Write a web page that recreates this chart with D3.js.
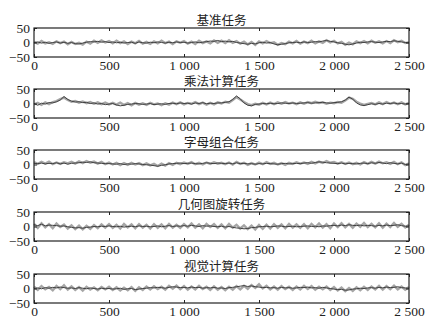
<!DOCTYPE html>
<html>
<head>
<meta charset="utf-8">
<script src="https://cdn.jsdelivr.net/npm/d3@7"></script>
<style>
    body { margin: 0; background: #fff; }
    .tick text { font-family: "Liberation Serif", "DejaVu Serif", serif; font-size: 13.5px; fill: #222; }
    .title { font-family: "Noto Sans CJK SC", sans-serif; font-size: 12.5px; fill: #222; }
</style>
</head>
<body>
<div id="chart"></div>
<script>
// panel titles
const titles = ["基准任务", "乘法计算任务", "字母组合任务", "几何图旋转任务", "视觉计算任务"];
const xTicks = [0, 500, 1000, 1500, 2000, 2500];
const yTicks = [-50, 0, 50];
const step = 25; // one value every 25 samples

// gray series (every 25 samples)
const gray1 = [2,-4,5,-3,1,-5,4,-2,3,-6, 2,-5,-1,-7,3,-4,6,-1,7,0, 5,-3,6,-2,4,-5,3,-3,5,-4,
    2,-5,4,-3,6,-2,3,-5,4,-1, 5,-4,3,-5,6,-2,4,-3,7,-1, 6,-2,8,-1,5,-4,3,-7,2,-8,
    4,-3,5,-2,1,-8,-2,-6,3,-3, 5,-4,3,-2,6,-3,4,-1,8,0, 6,-3,2,-8,0,-6,4,-2,5,-3,
    6,-1,4,-3,5,-2,8,1,6,-2, 1];
const dark1 = [-1,2,-2,1,-3,0,2,-2,1,-3, 0,-4,-5,-2,1,3,2,4,1,3, 0,2,-1,1,-2,0,1,-3,2,-1,
    -2,1,-1,2,0,-2,1,-1,2,0, 1,-2,0,2,-1,1,3,5,4,7, 3,5,2,4,0,-2,-4,-6,-3,-5,
    -1,1,-2,0,-5,-8,-6,-4,-1,0, 1,-1,2,0,1,3,2,5,7,4, 2,-1,-3,-6,-8,-5,-2,1,0,2,
    3,1,0,2,4,3,6,4,2,0, -1];

const gray2 = [-3,2,-5,4,-2,5,8,15,20,12, 6,9,3,7,1,5,-1,4,-2,3, -3,2,-4,3,-5,1,-6,2,-4,1,
    -5,2,-3,0,-6,1,-4,3,-2,4, -3,2,-1,5,-2,3,-4,2,-3,4, 0,6,3,12,22,14,5,-2,-6,-1,
    -4,2,-3,3,-2,4,-1,5,0,3, -2,4,-1,5,1,6,2,4,-1,3, 1,5,3,10,20,16,6,0,-5,-1,
    2,-3,4,-2,5,-1,3,-2,4,-3, 2];
const dark2 = [0,-6,1,-2,3,2,6,12,24,14, 8,5,6,3,4,0,2,-2,0,-4, -2,0,-5,-8,-6,-3,-2,0,-1,-3,
    -2,0,-4,-2,-1,-3,0,1,-1,2, 0,1,-2,2,0,3,-1,1,0,2, 2,4,6,14,26,16,2,-6,-8,-3,
    -2,0,-1,1,-1,0,2,1,0,2, 0,1,2,3,1,2,3,4,2,1, 3,4,6,12,22,15,2,-5,-7,-4,
    -1,-3,0,-2,1,0,2,-1,0,-2, 0];

const gray3 = [8,2,9,3,10,1,7,2,8,4, 9,3,11,5,12,6,10,3,9,1, 7,0,6,-2,5,-1,6,0,5,-2,
    4,-3,2,-5,3,-4,5,-1,6,1, 7,2,8,1,6,0,7,2,8,3, 6,1,7,0,9,2,6,-1,5,0,
    7,1,8,2,6,0,5,-1,6,2, 8,3,7,2,9,4,10,5,12,6, 9,3,8,2,7,1,6,0,8,2,
    9,3,10,4,8,2,9,1,7,-2, 4];
const dark3 = [4,3,5,2,4,3,6,2,5,1, 4,5,6,8,7,9,6,5,4,3, 3,2,1,3,0,2,1,3,2,0,
    -1,-2,-4,-6,-3,-1,2,3,4,5, 3,4,5,3,2,4,6,4,3,5, 4,3,5,2,6,3,4,2,3,1,
    3,2,4,3,2,1,3,4,2,3, 4,3,5,6,4,7,9,8,6,5, 4,3,5,2,4,3,2,4,5,3,
    6,4,7,5,3,6,4,2,5,0, 2];

const gray4 = [9,-5,11,-3,8,-6,10,-2,7,-7, 4,-9,3,-10,2,-8,5,-6,7,-4, 8,-5,6,-7,9,-3,7,-6,8,-4,
    6,-7,8,-5,7,-6,9,-4,6,-5, 8,-3,10,-4,7,-6,9,-2,8,-5, 7,-6,9,-4,6,-7,4,-9,3,-10,
    5,-8,6,-7,8,-5,7,-6,9,-4, 7,-5,8,-6,9,-3,10,-4,8,-6, 10,-2,11,-3,9,-4,10,-1,12,-2,
    9,-3,11,-4,10,-2,12,-1,9,-3, 6];
const dark4 = [6,3,8,2,5,4,3,1,2,-1, -3,-5,-4,-6,-3,-2,0,-1,1,0, 2,0,-1,1,-2,0,1,-1,2,0,
    1,-1,0,2,-1,1,3,0,2,1, 3,1,4,2,0,3,1,2,0,-1, 1,-2,0,-3,-5,-6,-8,-7,-4,-3,
    -1,0,1,-1,0,2,1,-1,0,1, -1,0,1,2,0,1,-1,2,1,3, 4,2,5,3,6,4,3,5,2,4,
    3,1,4,2,5,3,4,6,3,1, 2];

const gray5 = [6,-5,8,-3,5,-6,9,-2,11,-4, 7,-5,5,-7,6,-4,4,-6,5,-3, 6,-5,4,-7,3,-6,5,-8,4,-5,
    7,-3,8,-2,6,-4,9,-1,10,-2, 8,-4,7,-3,9,-2,6,-5,7,-4, 5,-6,6,-4,8,-3,9,-1,12,2,
    15,0,9,-3,7,-4,8,-2,6,-5, 7,-3,9,-2,8,-4,6,-3,7,-5, 5,-7,3,-9,2,-8,4,-6,6,-5,
    7,-3,9,-4,8,-2,10,-3,7,-4, 5];
const dark5 = [0,2,-1,3,1,4,2,5,3,1, 2,0,3,1,-1,2,0,-2,1,-1, 0,-2,-1,1,-3,-1,0,-4,-2,0,
    1,3,2,4,3,1,4,6,5,3, 4,2,5,3,4,1,3,2,4,1, 2,0,3,4,6,8,10,7,9,6,
    5,3,4,2,3,1,4,2,3,1, 2,4,3,5,2,3,1,4,2,0, -2,-4,-3,-6,-5,-2,-1,1,0,2,
    3,1,4,2,5,3,4,6,3,2, 1];

const grays = [gray1, gray2, gray3, gray4, gray5];
const darks = [dark1, dark2, dark3, dark4, dark5];

const width = 427, height = 329;
const left = 34, right = 409;
const panelTops = [28, 89, 150, 212, 274];
const panelH = 29;

const svg = d3.select("#chart").append("svg")
    .attr("width", width)
    .attr("height", height);

const x = d3.scaleLinear().domain([0, 2500]).range([left, right]);
const fmt = d3.formatLocale({ decimal: ".", thousands: " ", grouping: [3], currency: ["", ""], minus: "\u2212" }).format(",");

titles.forEach((t, i) => {
    const top = panelTops[i];
    const y = d3.scaleLinear().domain([-50, 50]).range([top + panelH, top]);
    const g = svg.append("g");

    const line = d3.line()
        .x((d, k) => x(k * step))
        .y(d => y(d));

    // gray trace drawn wide to give the dense noisy band
    g.append("path")
        .datum(grays[i])
        .attr("d", line)
        .attr("fill", "none")
        .attr("stroke", "#a6a6a6")
        .attr("stroke-width", 2.4)
        .attr("stroke-linejoin", "miter");

    g.append("path")
        .datum(darks[i])
        .attr("d", line)
        .attr("fill", "none")
        .attr("stroke", "#404040")
        .attr("stroke-width", 1);

    // bottom axis with labels, ticks pointing inward
    const xb = g.append("g")
        .attr("transform", `translate(0,${top + panelH})`)
        .call(d3.axisBottom(x).tickValues(xTicks).tickSize(-3).tickPadding(3).tickFormat(fmt));
    // top ticks only
    const xt = g.append("g")
        .attr("transform", `translate(0,${top})`)
        .call(d3.axisTop(x).tickValues(xTicks).tickSize(-3).tickFormat(""));
    const yl = g.append("g")
        .attr("transform", `translate(${left},0)`)
        .call(d3.axisLeft(y).tickValues(yTicks).tickSize(-3).tickPadding(4).tickFormat(fmt));
    const yr = g.append("g")
        .attr("transform", `translate(${right},0)`)
        .call(d3.axisRight(y).tickValues(yTicks).tickSize(-3).tickFormat(""));

    [xb, xt, yl, yr].forEach(a => {
        a.select(".domain").remove();
        a.selectAll(".tick line").attr("stroke", "#222");
    });

    g.append("rect")
        .attr("x", left)
        .attr("y", top)
        .attr("width", right - left)
        .attr("height", panelH)
        .attr("fill", "none")
        .attr("stroke", "#222")
        .attr("stroke-width", 1.2);

    g.append("text")
        .attr("class", "title")
        .attr("x", (left + right) / 2)
        .attr("y", top - 3)
        .attr("text-anchor", "middle")
        .text(t);
});
</script>
</body>
</html>
